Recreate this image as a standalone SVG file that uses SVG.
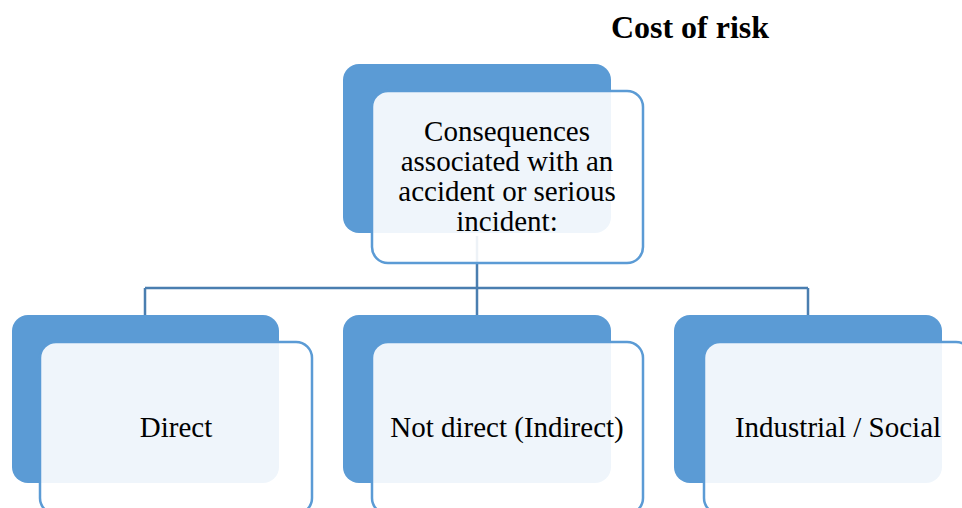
<svg xmlns="http://www.w3.org/2000/svg" width="962" height="508" viewBox="0 0 962 508">
<style>
.back{fill:#5B9BD5;}
.front{fill:#FFFFFF;fill-opacity:0.9;stroke:#5B9BD5;stroke-width:2.5;}
.conn{fill:none;stroke:#4A7EB0;stroke-width:2.5;}
.lbl{font-family:"Liberation Serif","Times New Roman",serif;font-size:29px;fill:#000;text-anchor:middle;}
.title{font-family:"Liberation Serif","Times New Roman",serif;font-size:32px;font-weight:bold;fill:#000;text-anchor:middle;}
</style>
<rect width="962" height="508" fill="#FFFFFF"/>
<text class="title" x="690" y="38">Cost of risk</text>
<g id="connectors">
<path class="conn" d="M477,236 V288 M145,288 H808 M145,288 V315 M477,288 V315 M808,288 V315"/>
</g>
<g id="node-top">
<rect class="back" x="343" y="64" width="268" height="169" rx="16"/>
<rect class="front" x="372" y="91" width="271" height="172" rx="16"/>
<text class="lbl" x="507" y="141">Consequences</text>
<text class="lbl" x="507" y="171">associated with an</text>
<text class="lbl" x="507" y="201">accident or serious</text>
<text class="lbl" x="507" y="231">incident:</text>
</g>
<g id="node-direct">
<rect class="back" x="12" y="315" width="267" height="168" rx="16"/>
<rect class="front" x="40" y="342" width="272" height="172" rx="16"/>
<text class="lbl" x="176" y="437">Direct</text>
</g>
<g id="node-indirect">
<rect class="back" x="343" y="315" width="268" height="168" rx="16"/>
<rect class="front" x="372" y="342" width="271" height="172" rx="16"/>
<text class="lbl" x="507" y="437">Not direct (Indirect)</text>
</g>
<g id="node-social">
<rect class="back" x="674" y="315" width="268" height="168" rx="16"/>
<rect class="front" x="704" y="342" width="268" height="172" rx="16"/>
<text class="lbl" x="838" y="437">Industrial / Social</text>
</g>
</svg>
